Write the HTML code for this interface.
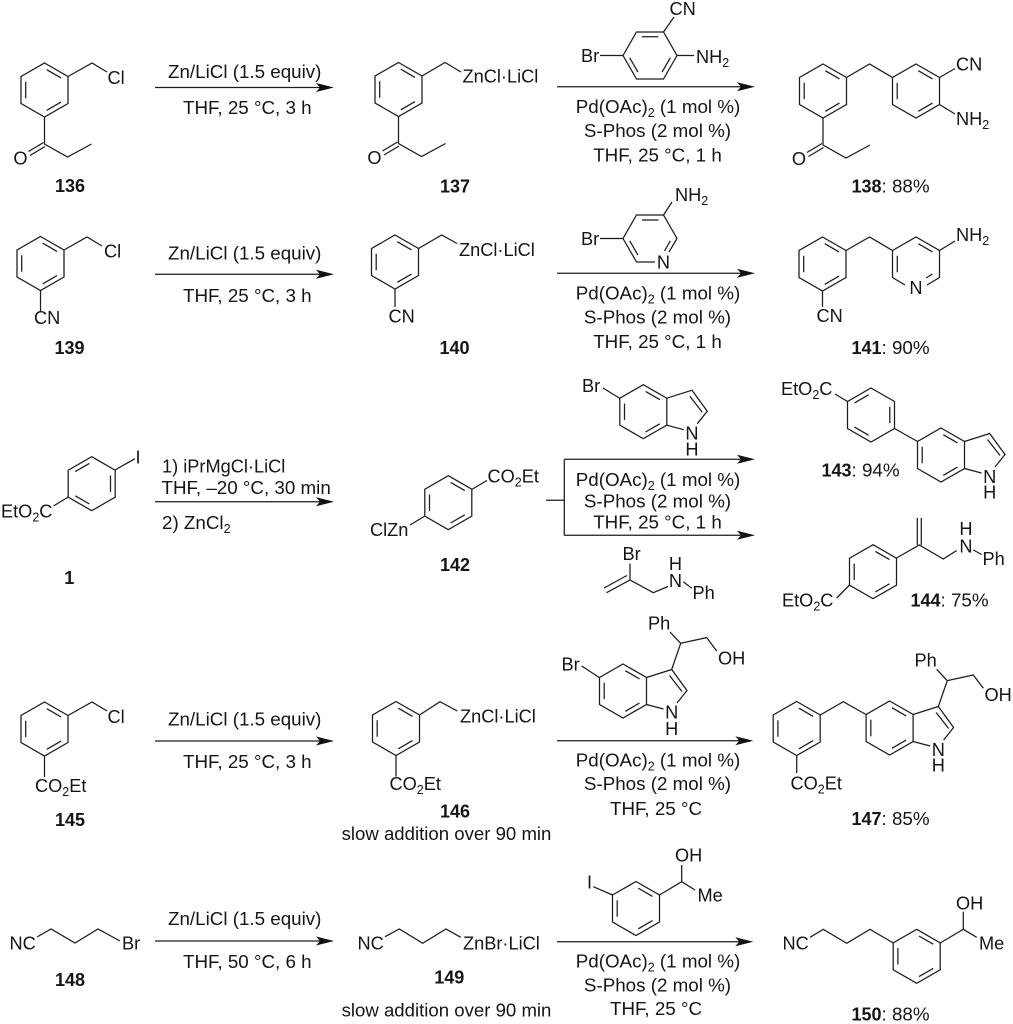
<!DOCTYPE html>
<html>
<head>
<meta charset="utf-8">
<style>
html,body{margin:0;padding:0;background:#fff}
svg{display:block}
text{font-family:"Liberation Sans",Arial,sans-serif;font-size:18.2px;fill:#151515}
text.r{font-size:18.8px}
.b{font-weight:bold;font-size:18px}
.m{text-anchor:middle}
.l{fill:none;stroke:#1c1c1c;stroke-width:1.25}
</style>
</head>
<body>
<svg width="1013" height="1024" viewBox="0 0 1013 1024" xmlns="http://www.w3.org/2000/svg">
<defs>
<path id="a" class="l" d="M0-27L23.5-13.5V13.5L0 27L-23.5 13.5V-13.5ZM-18.8-8.2V8.2M2.3-20.3L16.5-12.1M16.5 12.1L2.3 20.3"/>
<path id="bz" class="l" d="M0-27L23.5-13.5V13.5L0 27L-23.5 13.5V-13.5ZM18.8-8.2V8.2M-2.3-20.3L-16.5-12.1M-16.5 12.1L-2.3 20.3"/>
<path id="c" class="l" d="M-13.5-23.5H13.5L27 0L13.5 23.5H-13.5L-27 0ZM-8.2-18.8H8.2M-20.3 2.3L-12.1 16.5M20.3 2.3L12.1 16.5"/>
<path id="ind" class="l" d="M0-27L23.5-13.5V13.5L0 27L-23.5 13.5V-13.5ZM-18.8-8.2V8.2M2.3-20.3L16.5-12.1M16.5 12.1L2.3 20.3M23.5-13.5L48.7-21.5L64-0.5L54 12M40.5 18L23.5 13.5M46.5-15.5L59 0.5"/>
<path id="ket" class="l" d="M0 27V54L23 67L47 54M-16 61.5L-1 52.5M-14.5 65.5L0.5 56.5"/>
<path id="ah" d="M0 0L-18-4.5L-14 0L-18 4.5Z" fill="#111"/>
</defs>

<!-- ROW 1 -->
<use href="#a" x="44.5" y="90"/><use href="#ket" x="44.5" y="90"/>
<path class="l" d="M68 76.5L92 63L107 72"/>
<text x="107.5" y="84">Cl</text>
<text x="20.5" y="164.5" class="m">O</text>
<text x="70" y="192" class="b m">136</text>
<path class="l" d="M155 87.5H325"/><use href="#ah" x="334" y="87.5"/>
<text x="168" y="78" class="r">Zn/LiCl (1.5 equiv)</text>
<text x="183" y="114" class="r">THF, 25 °C, 3 h</text>

<use href="#a" x="398.5" y="89.5"/><use href="#ket" x="398.5" y="89.5"/>
<path class="l" d="M422 76L445 62.5L461 72"/>
<text x="462.5" y="82.5">ZnCl·LiCl</text>
<text x="374.5" y="164" class="m">O</text>
<text x="455" y="192.5" class="b m">137</text>

<use href="#c" x="650" y="55.5"/>
<path class="l" d="M600 55.5H623M663.5 32L674 17M677 55.5H694"/>
<text x="581" y="62">Br</text>
<text x="669.5" y="15">CN</text>
<text x="696" y="63">NH<tspan dy="4" font-size="12.5">2</tspan></text>
<path class="l" d="M557 86.7H745"/><use href="#ah" x="755" y="86.7"/>
<text x="658" y="113" class="m r">Pd(OAc)<tspan dy="4" font-size="12.5">2</tspan><tspan dy="-4"> (1 mol %)</tspan></text>
<text x="657.5" y="137" class="m r">S-Phos (2 mol %)</text>
<text x="657.5" y="161.5" class="m r">THF, 25 °C, 1 h</text>

<use href="#a" x="823" y="91"/><use href="#ket" x="823" y="91"/>
<use href="#a" x="916" y="91"/>
<path class="l" d="M846.5 77.5L869.5 64L892.5 77.5M939.5 77.5L955 68.5M939.5 104.5L955 114"/>
<text x="799" y="165" class="m">O</text>
<text x="956" y="70.5">CN</text>
<text x="956" y="125">NH<tspan dy="4" font-size="12.5">2</tspan></text>
<text x="851.5" y="192.5" class="r"><tspan class="b">138</tspan>: 88%</text>

<!-- ROW 2 -->
<use href="#a" x="40.5" y="263.5"/>
<path class="l" d="M64 250L87 237L102 246M40.5 290.5V311"/>
<text x="104" y="257.5">Cl</text>
<text x="34" y="324">CN</text>
<text x="69.5" y="354" class="b m">139</text>
<path class="l" d="M155 274.3H325"/><use href="#ah" x="334" y="274.3"/>
<text x="168" y="259.5" class="r">Zn/LiCl (1.5 equiv)</text>
<text x="183" y="302" class="r">THF, 25 °C, 3 h</text>

<use href="#a" x="395" y="262"/>
<path class="l" d="M418.5 248.5L441.7 235L457 243.5M395 289V307"/>
<text x="459" y="256">ZnCl·LiCl</text>
<text x="388.5" y="322.5">CN</text>
<text x="454.5" y="354" class="b m">140</text>

<path class="l" d="M655 262H636.5L623 238.5L636.5 215H663.5L677 238.5L669 252M642 220H658.5M629.7 240.8L637.9 255M670.3 240.8L664.5 251M600 238.5H623M663.5 215L672 202"/>
<text x="581" y="245">Br</text>
<text x="663.5" y="268.5" class="m">N</text>
<text x="675" y="201">NH<tspan dy="4" font-size="12.5">2</tspan></text>
<path class="l" d="M557 273.3H745"/><use href="#ah" x="755" y="273.3"/>
<text x="658" y="299.5" class="m r">Pd(OAc)<tspan dy="4" font-size="12.5">2</tspan><tspan dy="-4"> (1 mol %)</tspan></text>
<text x="657.5" y="323.5" class="m r">S-Phos (2 mol %)</text>
<text x="657.5" y="348" class="m r">THF, 25 °C, 1 h</text>

<use href="#a" x="822.5" y="264"/>
<path class="l" d="M846 250.5L869.5 237L892.5 250.5M822.5 291V307"/>
<path class="l" d="M892.5 250.5L916 237L939.5 250.5V277.5L927 285M905 285L892.5 277.5V250.5M897.3 255.8V272.2M918.3 243.7L932.5 251.9M932.5 274L926 278"/>
<text x="916" y="294" class="m">N</text>
<path class="l" d="M939.5 250.5L955 241"/>
<text x="956" y="241">NH<tspan dy="4" font-size="12.5">2</tspan></text>
<text x="816.5" y="322">CN</text>
<text x="851.5" y="354" class="r"><tspan class="b">141</tspan>: 90%</text>

<!-- ROW 3 -->
<use href="#bz" x="91.7" y="483.7"/>
<path class="l" d="M115 470L135 458.7M68.3 497L53.5 506"/>
<text x="135.5" y="463.5">I</text>
<text x="1" y="517.5">EtO<tspan dy="4" font-size="12.5">2</tspan><tspan dy="-4">C</tspan></text>
<text x="69.3" y="584" class="b m">1</text>
<path class="l" d="M155 501.7H325"/><use href="#ah" x="334" y="501.7"/>
<text x="162" y="472.5">1) iPrMgCl·LiCl</text>
<text x="161.5" y="494" class="r">THF, –20 °C, 30 min</text>
<text x="162" y="529" class="r">2) ZnCl<tspan dy="4" font-size="12.5">2</tspan></text>

<use href="#a" x="448.3" y="502.7"/>
<path class="l" d="M471.7 489.5L487 480.5M425 516L410 525"/>
<text x="487.5" y="482.5">CO<tspan dy="4" font-size="12.5">2</tspan><tspan dy="-4">Et</tspan></text>
<text x="370" y="536">ClZn</text>
<text x="455" y="571" class="b m">142</text>

<path class="l" d="M546 500.3H564.3M564.3 459.3V535.5M564.3 459.3H745M564.3 535.2H745"/>
<use href="#ah" x="755" y="459.3"/><use href="#ah" x="755" y="535.2"/>
<text x="658" y="486" class="m r">Pd(OAc)<tspan dy="4" font-size="12.5">2</tspan><tspan dy="-4"> (1 mol %)</tspan></text>
<text x="657.5" y="507.5" class="m r">S-Phos (2 mol %)</text>
<text x="657.5" y="528.5" class="m r">THF, 25 °C, 1 h</text>

<use href="#ind" x="643.3" y="411.7"/>
<path class="l" d="M603 388L620 398.5"/>
<text x="582" y="392">Br</text>
<text x="692" y="439.5" class="m">N</text>
<text x="692" y="455.5" class="m">H</text>

<path class="l" d="M630 563.5V580L653.3 592.7L668 586.5M630 580L606.5 592.7M627 575.5L604 588M630 580"/>
<text x="622.5" y="560">Br</text>
<text x="675.5" y="587" class="m">N</text>
<text x="675.5" y="570" class="m">H</text>
<path class="l" d="M683.3 581.7L691.7 588.3"/>
<text x="692.5" y="599">Ph</text>

<use href="#bz" x="871" y="415"/>
<use href="#ind" x="941" y="455"/>
<path class="l" d="M847.5 401.5L835 394M894.5 428.5L917.5 441.5"/>
<text x="781" y="395">EtO<tspan dy="4" font-size="12.5">2</tspan><tspan dy="-4">C</tspan></text>
<text x="989.7" y="483" class="m">N</text>
<text x="989.7" y="498.5" class="m">H</text>
<text x="821.5" y="476.5" class="r"><tspan class="b">143</tspan>: 94%</text>

<use href="#a" x="873" y="571.7"/>
<path class="l" d="M896.5 558L919.3 545L943.3 559L956.7 550.5M917.3 545V518M921.3 545V518M973.3 550L981.7 554.5M849.5 585L836.7 598"/>
<text x="966" y="552.5" class="m">N</text>
<text x="966" y="535" class="m">H</text>
<text x="982.5" y="565">Ph</text>
<text x="782" y="606.5">EtO<tspan dy="4" font-size="12.5">2</tspan><tspan dy="-4">C</tspan></text>
<text x="910.5" y="606.5" class="r"><tspan class="b">144</tspan>: 75%</text>

<!-- ROW 4 -->
<use href="#a" x="44.5" y="729"/>
<path class="l" d="M68 715.5L92 702L107 711M44.5 756V777"/>
<text x="107.5" y="723">Cl</text>
<text x="35" y="792">CO<tspan dy="4" font-size="12.5">2</tspan><tspan dy="-4">Et</tspan></text>
<text x="70" y="826" class="b m">145</text>
<path class="l" d="M155 741H325"/><use href="#ah" x="334" y="741"/>
<text x="168" y="725.5" class="r">Zn/LiCl (1.5 equiv)</text>
<text x="183" y="768" class="r">THF, 25 °C, 3 h</text>

<use href="#a" x="396" y="728.5"/>
<path class="l" d="M419.5 715L440 701.7L457.3 711M396 755.5V776.5"/>
<text x="460" y="722.7">ZnCl·LiCl</text>
<text x="389.5" y="790">CO<tspan dy="4" font-size="12.5">2</tspan><tspan dy="-4">Et</tspan></text>
<text x="455" y="817.5" class="b m">146</text>
<text x="446.5" y="840" class="m" style="font-size:18.6px">slow addition over 90 min</text>

<use href="#ind" x="623" y="691"/>
<path class="l" d="M581.7 666L600 678M671.7 669.5L680.7 643.3L706.7 637.6L716.7 651M680.7 643.3L670 632"/>
<text x="561.5" y="670.7">Br</text>
<text x="671.7" y="718.3" class="m">N</text>
<text x="671.7" y="735" class="m">H</text>
<text x="718" y="664.5">OH</text>
<text x="648" y="629.5">Ph</text>
<path class="l" d="M557 740.7H743"/><use href="#ah" x="753.3" y="740.7"/>
<text x="658" y="766.7" class="m r">Pd(OAc)<tspan dy="4" font-size="12.5">2</tspan><tspan dy="-4"> (1 mol %)</tspan></text>
<text x="657.5" y="790" class="m r">S-Phos (2 mol %)</text>
<text x="656" y="815" class="m r">THF, 25 °C</text>

<use href="#a" x="796.7" y="728.5"/>
<use href="#ind" x="889.6" y="728"/>
<path class="l" d="M820.2 715L843.3 701.7L866 714.5M796.7 755.5V773M938.3 706.5L947.3 680.7L973.3 675L983.3 688.3M947.3 680.7L936.7 669.3"/>
<text x="790.5" y="789.5">CO<tspan dy="4" font-size="12.5">2</tspan><tspan dy="-4">Et</tspan></text>
<text x="938.3" y="756" class="m">N</text>
<text x="938.3" y="771.7" class="m">H</text>
<text x="984.5" y="701">OH</text>
<text x="914.5" y="666.7">Ph</text>
<text x="851.5" y="825" class="r"><tspan class="b">147</tspan>: 85%</text>

<!-- ROW 5 -->
<path class="l" d="M37 937L51 929L75 943L98 929L120 941"/>
<text x="9.5" y="949.5">NC</text>
<text x="122" y="949.5">Br</text>
<text x="70" y="986" class="b m">148</text>
<path class="l" d="M155 941H325"/><use href="#ah" x="334" y="941"/>
<text x="168" y="925" class="r">Zn/LiCl (1.5 equiv)</text>
<text x="183" y="968" class="r">THF, 50 °C, 6 h</text>

<path class="l" d="M385 936.7L399.3 929L422.7 943.3L446 929L460.7 937.3"/>
<text x="357.5" y="949.3">NC</text>
<text x="463" y="949.3">ZnBr·LiCl</text>
<text x="449.3" y="983.3" class="b m">149</text>
<text x="446.5" y="1016.7" class="m" style="font-size:18.6px">slow addition over 90 min</text>

<use href="#a" x="636" y="908.5"/>
<path class="l" d="M593.3 886.7L612.5 895M659.5 895L681.7 881.7V865M681.7 881.7L695 890"/>
<text x="587" y="888.5">I</text>
<text x="675" y="861.7">OH</text>
<text x="697.5" y="901.7">Me</text>
<path class="l" d="M557 941.7H743"/><use href="#ah" x="753.3" y="941.7"/>
<text x="658" y="967.7" class="m r">Pd(OAc)<tspan dy="4" font-size="12.5">2</tspan><tspan dy="-4"> (1 mol %)</tspan></text>
<text x="657.5" y="991.7" class="m r">S-Phos (2 mol %)</text>
<text x="656" y="1015" class="m r">THF, 25 °C</text>

<use href="#a" x="916.7" y="956.3"/>
<path class="l" d="M810 937.3L823.3 929.3L846.7 943.3L870 929.3L893.3 943M940.2 943L963.3 929.3V911.7M963.3 929.3L976.7 937.3"/>
<text x="782.5" y="949.3">NC</text>
<text x="956" y="909.3">OH</text>
<text x="979" y="949.3">Me</text>
<text x="851.5" y="1020.5" class="r"><tspan class="b">150</tspan>: 88%</text>
</svg>
</body>
</html>
